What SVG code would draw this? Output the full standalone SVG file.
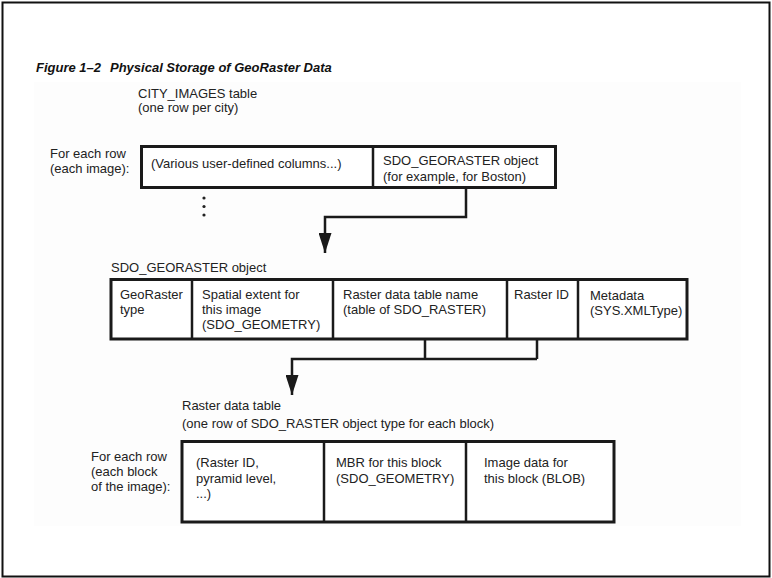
<svg xmlns="http://www.w3.org/2000/svg" width="772" height="578" viewBox="0 0 772 578">
<style>
.t{font-family:"Liberation Sans",Arial,sans-serif;font-size:13px;fill:#222}
.ttl{font-family:"Liberation Sans",Arial,sans-serif;font-size:13px;font-weight:bold;font-style:italic;fill:#111}
.box{fill:#fff;stroke:#1a1a1a;stroke-width:3}
.div{stroke:#1a1a1a;stroke-width:2.5;fill:none}
.con{stroke:#1a1a1a;stroke-width:2.5;fill:none}
</style>
<defs>
<marker id="arr" markerWidth="20" markerHeight="13" refX="20" refY="6.5" orient="auto" markerUnits="userSpaceOnUse" viewBox="0 0 20 13">
<path d="M0,0 L20,6.5 L0,13 Z" fill="#1a1a1a"/>
</marker>
</defs>
<rect x="0" y="0" width="772" height="578" fill="#fff"/>
<rect x="34" y="82" width="707" height="444" fill="#fdfdfd"/>
<rect x="2.5" y="2.5" width="767" height="574" fill="none" stroke="#111" stroke-width="2"/>
<text class="ttl" x="36" y="72">Figure 1–2<tspan x="110">Physical Storage of GeoRaster Data</tspan></text>

<g id="city_images">
<text class="t" x="138" y="97.5">CITY_IMAGES table</text>
<text class="t" x="138" y="112">(one row per city)</text>
<text class="t" x="50" y="158">For each row</text>
<text class="t" x="50" y="173">(each image):</text>
<rect class="box" x="141.5" y="146.5" width="414" height="41"/>
<line class="div" x1="373" y1="146" x2="373" y2="187"/>
<text class="t" x="151" y="167.5">(Various user-defined columns...)</text>
<text class="t" x="383" y="165">SDO_GEORASTER object</text>
<text class="t" x="383" y="181">(for example, for Boston)</text>
<circle cx="204" cy="198" r="1.6" fill="#222"/>
<circle cx="204" cy="206.5" r="1.6" fill="#222"/>
<circle cx="204" cy="215" r="1.6" fill="#222"/>
</g>

<g id="sdo_georaster">
<text class="t" x="111" y="272">SDO_GEORASTER object</text>
<rect class="box" x="111" y="279.5" width="576" height="59.5"/>
<line class="div" x1="192" y1="279" x2="192" y2="339"/>
<line class="div" x1="333" y1="279" x2="333" y2="339"/>
<line class="div" x1="507" y1="279" x2="507" y2="339"/>
<line class="div" x1="578" y1="279" x2="578" y2="339"/>
<text class="t" x="120" y="299">GeoRaster</text>
<text class="t" x="120" y="314">type</text>
<text class="t" x="202" y="299">Spatial extent for</text>
<text class="t" x="202" y="314">this image</text>
<text class="t" x="202" y="329">(SDO_GEOMETRY)</text>
<text class="t" x="343" y="299">Raster data table name</text>
<text class="t" x="343" y="314">(table of SDO_RASTER)</text>
<text class="t" x="514" y="299">Raster ID</text>
<text class="t" x="590" y="300">Metadata</text>
<text class="t" x="590" y="315">(SYS.XMLType)</text>
</g>

<g id="raster_table">
<text class="t" x="182" y="409.5">Raster data table</text>
<text class="t" x="182" y="427.5">(one row of SDO_RASTER object type for each block)</text>
<text class="t" x="91" y="461">For each row</text>
<text class="t" x="91" y="476">(each block</text>
<text class="t" x="91" y="491">of the image):</text>
<rect class="box" x="182" y="441.5" width="432" height="80.5"/>
<line class="div" x1="324" y1="441" x2="324" y2="522"/>
<line class="div" x1="466" y1="441" x2="466" y2="522"/>
<text class="t" x="196" y="467">(Raster ID,</text>
<text class="t" x="196" y="482.5">pyramid level,</text>
<text class="t" x="196" y="498">...)</text>
<text class="t" x="336" y="467">MBR for this block</text>
<text class="t" x="336" y="482.5">(SDO_GEOMETRY)</text>
<text class="t" x="484" y="467">Image data for</text>
<text class="t" x="484" y="482.5">this block (BLOB)</text>
</g>

<g id="connectors">
<path class="con" d="M466,188 V217 H325 V253" marker-end="url(#arr)"/>
<path class="con" d="M425,340 V359 M537,340 V359 M537,359 H292 V395" marker-end="url(#arr)"/>
</g>
</svg>
